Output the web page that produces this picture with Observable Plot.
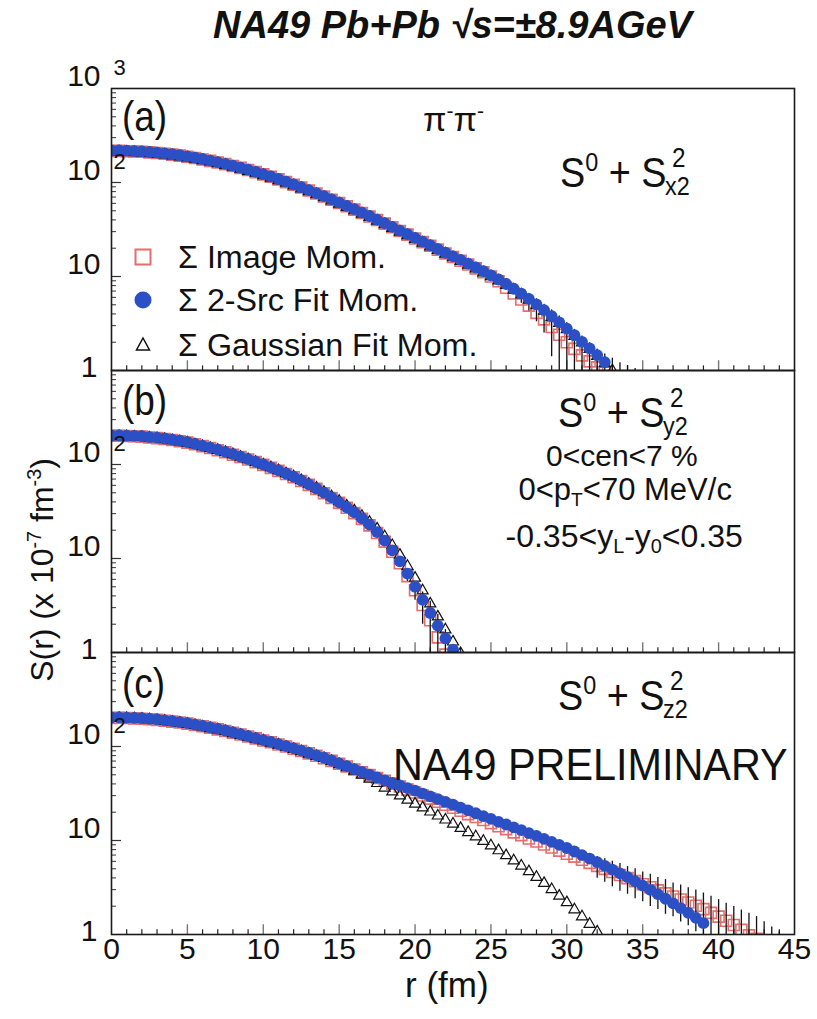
<!DOCTYPE html>
<html>
<head>
<meta charset="utf-8">
<script src="https://cdn.jsdelivr.net/npm/d3@7"></script>
<script src="https://cdn.jsdelivr.net/npm/@observablehq/plot@0.6"></script>
<style>
  body { margin: 0; background: #fff; }
  #chart { position: relative; width: 817px; height: 1019px; overflow: hidden;
           font-family: "Liberation Sans", Arial, Helvetica, sans-serif; color: #111; }
  #chart .t { position: absolute; white-space: nowrap; line-height: 1; transform-origin: 0 0; }
  #chart .t sup, #chart .t sub { position: relative; font-size: 0.62em; line-height: 0; vertical-align: baseline; }
  #chart .t sup { top: -0.62em; }
  #chart .t sub { top: 0.32em; }
  #plot { position: absolute; left: 0; top: 0; }
</style>
</head>
<body>
<div id="chart"><div id="plot"></div></div>
<script>
// ---- sampling radii (fm), shared by every series; entry i is r = 0.5·i ----
const rGrid = [0,0.5,1,1.5,2,2.5,3,3.5,4,4.5,5,5.5,6,6.5,7,7.5,8,8.5,9,9.5,
  10,10.5,11,11.5,12,12.5,13,13.5,14,14.5,15,15.5,16,16.5,17,17.5,18,18.5,19,19.5,
  20,20.5,21,21.5,22,22.5,23,23.5,24,24.5,25,25.5,26,26.5,27,27.5,28,28.5,29,29.5,
  30,30.5,31,31.5,32,32.5,33,33.5,34,34.5,35,35.5,36,36.5,37,37.5,38,38.5,39,39.5,
  40,40.5,41,41.5,42,42.5,43,43.5,44];

// ---- (a) S0 + S2_x2 ----
const imageA = [216,217,215,214,212,209,206,202,198,193,188,182,176,170,163,157,150,143,136,129,
  122,115,108,101,94.6,88.3,82.2,76.4,70.9,65.6,60.6,56.0,51.5,47.4,43.5,39.9,36.5,33.4,30.5,27.9,
  25.4,23.2,21.2,19.3,17.6,16.1,14.7,13.4,12.2,11.1,10.0,8.9,7.6,6.6,5.7,4.9,4.1,3.5,2.9,2.4,
  2.0,1.7,1.45,1.25,1.08,0.95,0.85,0.76,0.68,0.6,0.55];
const srcA = [219,219,218,216,214,211,208,204,200,195,190,184,178,171,165,158,151,144,137,130,
  123,116,109,102,95.5,89.1,83.0,77.1,71.6,66.2,61.2,56.5,52.0,47.9,44.0,40.3,36.9,33.7,30.8,28.2,
  25.7,23.5,21.5,19.6,17.9,16.4,15.0,13.7,12.5,11.4,10.3,9.29,8.32,7.41,6.58,5.78,5.05,4.39,3.78,3.25,
  2.79,2.37,2.02,1.72,1.46,1.23];
const gaussA = [212,212,211,209,207,204,201,197,193,188,183,178,172,166,159,153,146,139,132,126,
  119,112,105,98.6,92.3,86.1,80.2,74.5,69.2,64.0,59.2,54.6,50.3,46.3,42.6,39.0,35.7,32.6,29.8,27.3,
  24.9,22.8,20.8,19.0,17.4,15.9,14.5,13.3,12.1,11.0,10.0,9.02,8.08,7.20,6.40,5.63,4.93,4.29,3.70,3.18,
  2.73,2.32,1.98,1.68,1.42,1.19,1.0];
const errRA = [27,27.5,28,28.5,29,29.5,30,30.5,31,31.5,32,32.5,33,33.5,34,34.5,35];
const errA  = [0.5,0.6,0.8,1.0,1.5,1.4,1.2,1.0,0.8,0.7,0.6,0.55,0.5,0.45,0.45,0.45,0.4];

// ---- (b) S0 + S2_y2 ----
const imageB = [202,202,201,200,198,194,191,187,182,177,171,164,157,150,142,135,127,120,113,106,
  99.0,92.1,85.6,79.3,73.2,66.8,60.7,55.0,49.5,44.1,39.1,34.6,30.4,26.4,22.5,18.7,15.1,11.8,8.9,6.5,
  4.6,3.2,2.2,1.45,0.95];
const srcB = [204,204,203,202,200,196,193,189,184,179,173,166,158,151,144,136,129,121,114,107,
  100,93.1,86.5,80.2,74.1,67.6,61.4,55.6,50.1,44.7,39.6,35.1,30.9,26.8,22.9,19.1,15.5,12.2,9.33,6.92,
  5.01,3.63,2.63,1.93,1.41,1.07];
const gaussB = [199,199,198,197,195,192,189,185,180,175,170,163,156,149,142,135,128,120,113,106,
  99.5,92.8,86.3,80.1,74.2,67.9,61.9,56.2,50.9,45.6,40.7,36.3,32.2,28.2,24.4,20.7,17.1,13.8,10.9,8.3,
  6.2,4.55,3.3,2.4,1.75,1.3,0.98];
const errRB = [19.5,20,20.5,21,21.5,22];
const errB  = [0.8,1.0,1.2,1.3,1.1,0.8];

// ---- (c) S0 + S2_z2 ----
const imageC = [201,202,201,199,197,195,192,188,184,180,175,169,164,158,152,146,140,134,128,122,
  116,111,105,100,94.6,89.5,84.5,79.7,75.1,70.3,65.6,61.2,57.0,53.2,49.6,46.3,43.2,40.3,37.6,34.8,
  32.4,30.1,27.9,25.8,24.0,22.3,20.7,19.1,17.8,16.5,15.3,14.2,13.2,12.2,11.4,10.5,9.77,9.08,8.41,7.80,
  7.24,6.73,6.24,5.78,5.37,4.99,4.62,4.29,3.98,3.70,3.43,3.18,2.95,2.74,2.54,2.36,2.19,2.02,1.86,1.70,
  1.55,1.40,1.26,1.12,0.98,0.9,0.82,0.75,0.68];
const srcC = [204,204,203,202,200,197,194,190,186,182,177,171,166,160,154,148,141,135,129,123,
  117,112,106,101,95.5,90.4,85.3,80.5,75.9,71.0,66.2,61.8,57.5,53.7,50.1,46.8,43.7,40.9,38.5,36.1,
  33.9,31.6,29.5,27.5,25.7,24.0,22.4,20.9,19.5,18.2,17.0,15.8,14.8,13.8,12.9,12.0,11.2,10.4,9.66,8.97,
  8.32,7.64,7.00,6.43,5.89,5.37,4.90,4.47,4.07,3.67,3.31,2.99,2.69,2.40,2.14,1.91,1.70,1.50,1.32];
const gaussC = [200,200,199,198,196,193,190,186,182,178,173,168,162,156,151,145,138,132,126,120,
  115,109,104,98.6,93.4,88.4,83.4,78.6,75.0,69.7,64.6,59.7,55.0,49.9,45.2,40.6,36.3,33.0,29.9,27.0,
  24.5,22.3,20.2,18.3,16.6,15.0,13.5,12.2,11.0,9.84,8.81,7.82,6.92,6.10,5.37,4.68,4.07,3.51,3.02,2.57,
  2.19,1.84,1.55,1.29,1.07];
const errRC = [32,32.5,33,33.5,34,34.5,35,35.5,36,36.5,37,37.5,38,38.5,39,39.5,40,40.5,41,41.5,42,42.5,43,43.5,44];
const errC  = [1.4,1.4,1.4,1.4,1.3,1.3,1.2,1.2,1.1,1.1,1.0,1.0,0.95,0.95,0.9,0.85,0.8,0.75,0.72,0.7,0.7,0.65,0.55,0.45,0.4];

// ---- axes ----
const panels = ["a", "b", "c"];
const xTickLabels = [0,5,10,15,20,25,30,35,40,45];
const xMinorTicks = [1,2,3,4,6,7,8,9,11,12,13,14,16,17,18,19,21,22,23,24,26,27,28,29,31,32,33,34,36,37,38,39,41,42,43,44];
const xMajorTicks = [5,10,15,20,25,30,35,40];
const yMajorTicks = [10, 100];
const yMinorTicks = [2,3,4,5,6,7,8,9,20,30,40,50,60,70,80,90,200,300,400,500,600,700,800,900];

const RED = "#e36e6b", BLUE = "#2b50c6", INK = "#111";

const series = (panel, values) => values.map((S, i) => ({panel, r: rGrid[i], S}));
const errors = (panel, rs, errs, values) => rs.map((r, k) => {
  const S = values[rGrid.indexOf(r)], e = errs[k];
  return {panel, r, lo: Math.max(S - e, 0.05), hi: S + e};
});

const image = [...series("a", imageA), ...series("b", imageB), ...series("c", imageC)];
const src   = [...series("a", srcA),   ...series("b", srcB),   ...series("c", srcC)];
const gauss = [...series("a", gaussA), ...series("b", gaussB), ...series("c", gaussC)];
const bars  = [...errors("a", errRA, errA, imageA), ...errors("b", errRB, errB, imageB), ...errors("c", errRC, errC, imageC)];

const exponents = [
  {panel: "a", v: 1000, t: "3"},
  {panel: "a", v: 100, t: "2"}, {panel: "b", v: 100, t: "2"}, {panel: "c", v: 100, t: "2"}
];

const plot = Plot.plot({
  width: 817, height: 1019,
  marginTop: 87, marginBottom: 85, marginLeft: 111, marginRight: 23,
  style: {background: "transparent", color: INK, fontFamily: "'Liberation Sans', Arial, sans-serif", overflow: "visible"},
  x: {domain: [0, 45]},
  y: {type: "log", domain: [1, 1000]},
  fy: {domain: panels, padding: 0, axis: null},
  marks: [
    // inward ticks on the left and bottom edge of every panel
    Plot.ruleY(yMinorTicks, {x1: 0, x2: 0.33, stroke: "#333", strokeWidth: 1}),
    Plot.ruleY(yMajorTicks, {x1: 0, x2: 0.66, stroke: "#333", strokeWidth: 1.2}),
    Plot.ruleX(xMinorTicks, {y1: 1, y2: 1.12, stroke: "#222", strokeWidth: 1.2}),
    Plot.ruleX(xMajorTicks, {y1: 1, y2: 1.27, stroke: "#777", strokeWidth: 1.4}),

    // Σ Image Mom. (open squares) with their error bars
    Plot.dot(image, {x: "r", y: "S", fy: "panel", symbol: "square", r: 6.2, stroke: RED, strokeWidth: 1.6, fill: "none", clip: true}),
    Plot.ruleX(bars, {x: "r", y1: "lo", y2: "hi", fy: "panel", stroke: INK, strokeWidth: 1.3, clip: true}),
    // Σ Gaussian Fit Mom. (open triangles)
    Plot.dot(gauss, {x: "r", y: "S", fy: "panel", symbol: "triangle", r: 4.1, stroke: INK, strokeWidth: 1.2, fill: "none", clip: true}),
    // Σ 2-Src Fit Mom. (filled circles)
    Plot.dot(src, {x: "r", y: "S", fy: "panel", symbol: "circle", r: 5.9, fill: BLUE, clip: true}),

    Plot.frame({stroke: "#1a1a1a", strokeWidth: 1.6}),

    Plot.axisX(xTickLabels, {tickSize: 0, tickPadding: 3, fontSize: 30, label: null}),
    Plot.axisY(yMajorTicks, {tickSize: 0, tickPadding: 11, fontSize: 30, dy: -12, tickFormat: () => "10", label: null}),
    Plot.axisY([1], {tickSize: 0, tickPadding: 14, fontSize: 30, dy: -3, tickFormat: () => "1", label: null}),
    Plot.text([{panel: "a", v: 1000}], {x: 0, y: "v", fy: "panel", text: () => "10", textAnchor: "end", dx: -11, dy: -12, fontSize: 30}),
    Plot.text(exponents, {x: 0, y: "v", fy: "panel", text: "t", textAnchor: "start", dx: 2, dy: -21, fontSize: 22})
  ]
});
document.getElementById("plot").appendChild(plot);

// ---- text set around and inside the panels ----
const chart = document.getElementById("chart");
function label(html, x, base, size, {sx = 1, weight = "normal", style = "normal", anchor = "start"} = {}) {
  const d = document.createElement("div");
  d.className = "t";
  d.innerHTML = html;
  d.style.fontSize = size + "px";
  d.style.fontWeight = weight;
  d.style.fontStyle = style;
  d.style.top = (base - 0.8465 * size) + "px";
  d.style.transform = `scaleX(${sx})`;
  chart.appendChild(d);
  const w = d.offsetWidth * sx;
  d.style.left = (anchor === "middle" ? x - w / 2 : anchor === "end" ? x - w : x) + "px";
  return d;
}

label("NA49 Pb+Pb &radic;s=&plusmn;8.9AGeV", 213, 38, 38, {weight: "bold", style: "italic"});

// panel tags
label("(a)", 122, 132, 42, {sx: 0.88});
label("(b)", 122, 416, 42, {sx: 0.88});
label("(c)", 122, 699, 42, {sx: 0.88});

label("&pi;<sup>-</sup>&pi;<sup>-</sup>", 423, 131, 34);

// S0 + S2 with stacked super/subscript on the second term
function sTerm(x, base, sub) {
  label("S<sup>0</sup> + S", x, base, 42, {sx: 0.9});
  label("2", x + 112, base - 20, 27, {sx: 0.9});
  label(sub, x + 105, base + 7, 26, {sx: 0.9});
}
sTerm(560, 188, "x2");
sTerm(558, 428, "y2");
sTerm(558, 711, "z2");

label("0&lt;cen&lt;7 %", 622, 466, 30, {anchor: "middle"});
label("0&lt;p<sub>T</sub>&lt;70 MeV/c", 625, 500, 31, {anchor: "middle"});
label("-0.35&lt;y<sub>L</sub>-y<sub>0</sub>&lt;0.35", 624, 547, 32, {anchor: "middle"});

label("NA49 PRELIMINARY", 393, 780, 44, {sx: 0.94});

// legend inside panel (a)
function legendRow(symbol, cy, text) {
  const s = document.createElement("div");
  s.style.cssText = `position:absolute;left:${143 - 12}px;top:${cy - 12}px;width:24px;height:24px;`;
  s.innerHTML = `<svg width="24" height="24" viewBox="-12 -12 24 24">${symbol}</svg>`;
  chart.appendChild(s);
  label(text, 178, cy + 11, 31, {sx: 1.04});
}
legendRow(`<rect x="-7.5" y="-7.5" width="15" height="15" fill="none" stroke="${RED}" stroke-width="2"/>`, 257, "&Sigma; Image Mom.");
legendRow(`<circle r="8.5" fill="${BLUE}"/>`, 300, "&Sigma; 2-Src Fit Mom.");
legendRow(`<path d="M0,-7 L6.5,5 L-6.5,5 Z" fill="none" stroke="${INK}" stroke-width="1.5"/>`, 345, "&Sigma; Gaussian Fit Mom.");

// axis titles
label("r (fm)", 405, 997, 35);
const yl = document.createElement("div");
yl.className = "t";
yl.innerHTML = "S(r) (x 10<sup>-7</sup> fm<sup>-3</sup>)";
yl.style.cssText += "font-size:32px;left:42px;top:570px;transform-origin:50% 50%;transform:translate(-50%,-50%) rotate(-90deg);";
chart.appendChild(yl);
</script>
</body>
</html>
